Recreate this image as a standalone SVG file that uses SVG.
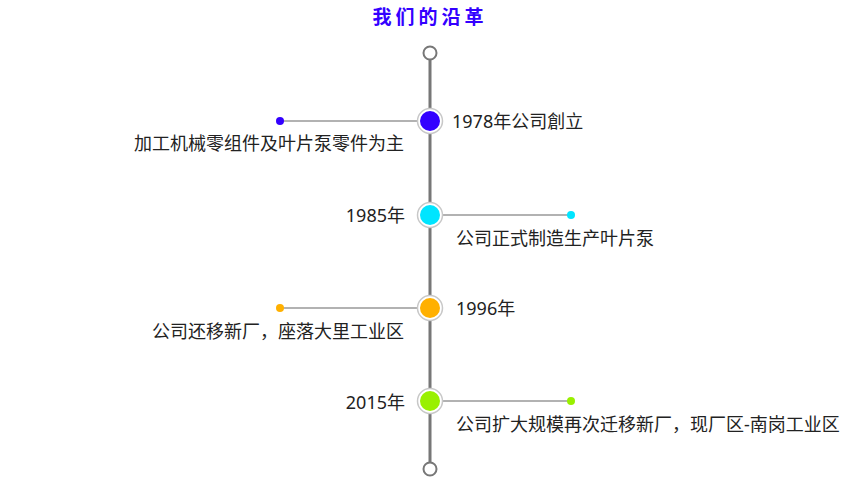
<svg xmlns="http://www.w3.org/2000/svg" width="850" height="480" viewBox="0 0 850 480">
<style>
text{font-family:"Noto Sans","Noto Sans CJK SC",sans-serif;font-size:18px;fill:#222}
.title{font-size:19px;font-weight:bold;fill:#3300ff;letter-spacing:4px}
.end{text-anchor:end}
.ring{fill:#fff;stroke:#c8c8c8;stroke-width:1.5}
.cap{fill:#fff;stroke:#777;stroke-width:2}
.conn{stroke:#666;stroke-width:1.2}
</style>
<rect width="850" height="480" fill="#fff"/>
<text class="title" x="430" y="24" text-anchor="middle">我们的沿革</text>
<g id="connectors">
<line x1="430" y1="60" x2="430" y2="462" stroke="#777" stroke-width="3"/>
<line class="conn" x1="280" y1="121" x2="418" y2="121"/>
<line class="conn" x1="442" y1="215" x2="571" y2="215"/>
<line class="conn" x1="280" y1="308" x2="418" y2="308"/>
<line class="conn" x1="442" y1="401" x2="571" y2="401"/>
</g>
<g id="start"><circle class="cap" cx="430" cy="53" r="6.5"/></g>
<g id="end"><circle class="cap" cx="430" cy="469" r="6.5"/></g>
<g id="n1978">
<circle class="ring" cx="430" cy="121" r="12.5"/>
<circle cx="430" cy="121" r="10" fill="#3300ff"/>
<circle cx="280" cy="121" r="4" fill="#3300ff"/>
<text x="452" y="128">1978年公司創立</text>
<text class="end" x="404" y="150">加工机械零组件及叶片泵零件为主</text>
</g>
<g id="n1985">
<circle class="ring" cx="430" cy="215" r="12.5"/>
<circle cx="430" cy="215" r="10" fill="#00e5ff"/>
<circle cx="571" cy="215" r="4" fill="#00e5ff"/>
<text class="end" x="405" y="222">1985年</text>
<text x="456" y="245">公司正式制造生产叶片泵</text>
</g>
<g id="n1996">
<circle class="ring" cx="430" cy="308" r="12.5"/>
<circle cx="430" cy="308" r="10" fill="#ffb000"/>
<circle cx="280" cy="308" r="4" fill="#ffb000"/>
<text x="456" y="315">1996年</text>
<text class="end" x="404" y="338">公司还移新厂，座落大里工业区</text>
</g>
<g id="n2015">
<circle class="ring" cx="430" cy="401" r="12.5"/>
<circle cx="430" cy="401" r="10" fill="#99f000"/>
<circle cx="571" cy="401" r="4" fill="#99f000"/>
<text class="end" x="405" y="409">2015年</text>
<text x="456" y="431">公司扩大规模再次迁移新厂，现厂区-南岗工业区</text>
</g>
</svg>
